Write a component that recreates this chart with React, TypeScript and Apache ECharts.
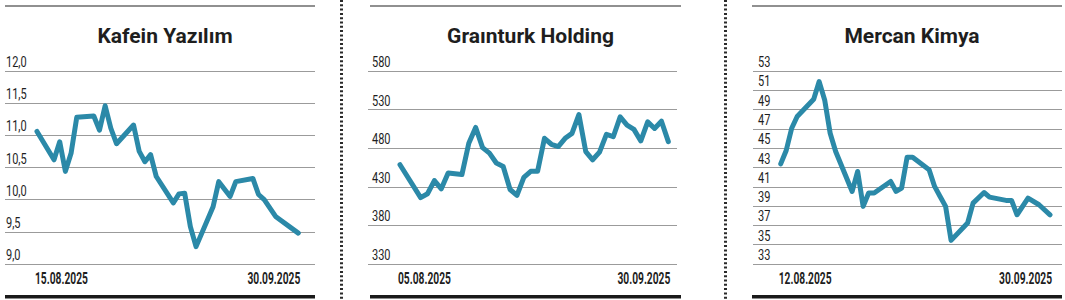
import React, { useEffect, useRef } from "react";
import * as echarts from "echarts";

// ---------- data ----------
const titles = ["Kafein Yazılım", "Graınturk Holding", "Mercan Kimya"];

// Kafein Yazılım: calendar-day offsets from 15.08.2025
const kafeinDays = [0, 3, 4, 5, 6, 7, 10, 11, 12, 13, 14, 17, 18, 19, 20, 21, 24, 25, 26, 27, 28, 31, 32, 34, 35, 38, 39, 40, 42, 46];
const kafeinValues = [11.06, 10.62, 10.9, 10.44, 10.72, 11.28, 11.3, 11.08, 11.46, 11.11, 10.87, 11.16, 10.75, 10.59, 10.7, 10.36, 9.95, 10.09, 10.1, 9.58, 9.27, 9.89, 10.28, 10.05, 10.28, 10.33, 10.08, 10.0, 9.74, 9.48];
const kafeinDates = ["15.08.2025", "30.09.2025"];
const kafeinTickLabels = ["9,0", "9,5", "10,0", "10,5", "11,0", "11,5", "12,0"];

// Graınturk Holding: trading-session index from 05.08.2025
const grainDays = [0, 3, 4, 5, 6, 7, 9, 10, 11, 12, 13, 14, 15, 16, 17, 18, 19, 20, 21, 22, 23, 24, 25, 26, 27, 28, 29, 30, 31, 32, 33, 34, 35, 36, 37, 38, 39];
const grainValues = [458.6, 415.9, 421, 438.1, 427.4, 448, 445.8, 486.4, 506.9, 480.8, 473.6, 460.8, 456.4, 426.5, 418.9, 442.3, 450, 450, 492.8, 485.1, 482.1, 492.8, 499.2, 523.6, 475.6, 465, 474.9, 497.9, 494.9, 520.5, 509.9, 504.4, 489.4, 514.1, 505.6, 515, 488.5];
const grainDates = ["05.08.2025", "30.09.2025"];
const grainTickLabels = ["330", "380", "430", "480", "530", "580"];

// Mercan Kimya: calendar-day offsets from 12.08.2025
const mercanDays = [0, 1, 2, 3, 6, 7, 8, 9, 10, 13, 14, 15, 16, 17, 20, 21, 22, 23, 24, 27, 28, 29, 30, 31, 34, 35, 37, 38, 41, 42, 43, 45, 47, 49];
const mercanValues = [43.38, 44.76, 47.07, 48.28, 50.07, 51.9, 50.0, 46.55, 44.66, 40.52, 42.59, 38.97, 40.35, 40.35, 41.55, 40.52, 40.86, 44.07, 44.07, 42.76, 41.04, 40.0, 38.97, 35.45, 37.24, 39.31, 40.41, 39.93, 39.59, 39.59, 38.1, 39.83, 39.14, 38.1];
const mercanDates = ["12.08.2025", "30.09.2025"];
const mercanTickLabels = ["33", "35", "37", "39", "41", "43", "45", "47", "49", "51", "53"];

// ---------- layout ----------
const panels = [
  { days: kafeinDays, values: kafeinValues, dates: kafeinDates, tickLabels: kafeinTickLabels,
    gridLeft: 5, gridWidth: 310, xMin: -5.63, xMax: 48.94, labelMargin: 1, ruleL: 5, ruleR: 315 },
  { days: grainDays, values: grainValues, dates: grainDates, tickLabels: grainTickLabels,
    gridLeft: 368, gridWidth: 309, xMin: -4.65, xMax: 40.26, labelMargin: 4, ruleL: 370, ruleR: 681 },
  { days: mercanDays, values: mercanValues, dates: mercanDates, tickLabels: mercanTickLabels,
    gridLeft: 753, gridWidth: 309, xMin: -5.04, xMax: 51.18, labelMargin: 5, ruleL: 752, ruleR: 1062 },
];

const LINE_COLOR = "#2b89a8";
const GRID_COLOR = "#9b9b9b";
const TEXT_COLOR = "#1e1e1e";
const num = (s: string) => parseFloat(s.replace(",", "."));

export default function App() {
  const ref = useRef<HTMLDivElement>(null);

  useEffect(() => {
    document.body.style.margin = "0";
    if (!ref.current) return;
    const chart = echarts.init(ref.current, null, { renderer: "svg" });

    const grid: any[] = [];
    const xAxis: any[] = [];
    const yAxis: any[] = [];
    const series: any[] = [];
    const title: any[] = [];
    const graphic: any[] = [];

    panels.forEach((p, i) => {
      const tickVals = p.tickLabels.map(num);
      grid.push({ left: p.gridLeft, width: p.gridWidth, top: 71, height: 193 });
      xAxis.push({
        type: "value",
        gridIndex: i,
        min: p.xMin,
        max: p.xMax,
        axisLine: { show: false },
        axisTick: { show: false },
        splitLine: { show: false },
        axisLabel: { show: false },
      });
      yAxis.push({
        type: "value",
        gridIndex: i,
        min: tickVals[0],
        max: tickVals[tickVals.length - 1],
        interval: tickVals[1] - tickVals[0],
        axisLine: { show: false },
        axisTick: { show: false },
        axisLabel: { show: false },
        splitLine: { show: true, lineStyle: { color: GRID_COLOR, width: 1 } },
      });
      series.push({
        type: "line",
        xAxisIndex: i,
        yAxisIndex: i,
        data: p.days.map((d, j) => [d, p.values[j]]),
        showSymbol: false,
        symbol: "none",
        lineStyle: { color: LINE_COLOR, width: 5, cap: "round", join: "round" },
      });
      title.push({
        text: titles[i],
        left: (p.ruleL + p.ruleR) / 2,
        top: 20,
        textAlign: "center",
        textStyle: { fontFamily: "Roboto, sans-serif", fontWeight: "bold", fontSize: 21, color: TEXT_COLOR },
      });
      graphic.push({
        type: "line",
        shape: { x1: p.ruleL, y1: 6, x2: p.ruleR, y2: 6 },
        style: { stroke: "#222", lineWidth: 1.2 },
      });
      graphic.push({
        type: "rect",
        shape: { x: p.ruleL, y: 295, width: p.ruleR - p.ruleL, height: 3.5 },
        style: { fill: "#1a1a1a" },
      });
    });

    [341.5, 725.5].forEach((x) => {
      graphic.push({
        type: "line",
        shape: { x1: x, y1: 0, x2: x, y2: 300 },
        style: { stroke: "#2a2a2a", lineWidth: 3, lineDash: [2, 2.3] },
      });
    });

    chart.setOption({
      animation: false,
      backgroundColor: "#ffffff",
      title,
      grid,
      xAxis,
      yAxis,
      series,
    });

    // tick and date labels, placed through the axes' own scales
    panels.forEach((p, i) => {
      const tickVals = p.tickLabels.map(num);
      const gridLeftPx = chart.convertToPixel({ xAxisIndex: i }, p.xMin) as number;
      tickVals.forEach((v, k) => {
        const py = chart.convertToPixel({ yAxisIndex: i }, v) as number;
        graphic.push({
          type: "text",
          x: gridLeftPx + p.labelMargin,
          y: py - 9,
          scaleX: 0.76,
          style: {
            text: p.tickLabels[k],
            fontFamily: "Roboto, sans-serif",
            fontSize: 14.5,
            fill: TEXT_COLOR,
            align: "left",
            verticalAlign: "middle",
          },
        });
      });
      const yMin = tickVals[0];
      const first = chart.convertToPixel({ gridIndex: i }, [p.days[0], yMin]) as number[];
      const last = chart.convertToPixel({ gridIndex: i }, [p.days[p.days.length - 1], yMin]) as number[];
      [
        { pt: first, text: p.dates[0], align: "left", dx: -2 },
        { pt: last, text: p.dates[1], align: "right", dx: 2 },
      ].forEach((d) => {
        graphic.push({
          type: "text",
          x: d.pt[0] + d.dx,
          y: d.pt[1] + 15,
          scaleX: 0.64,
          style: {
            text: d.text,
            fontFamily: "Roboto, sans-serif",
            fontWeight: "bold",
            fontSize: 16,
            fill: TEXT_COLOR,
            align: d.align,
            verticalAlign: "middle",
          },
        });
      });
    });

    chart.setOption({ graphic });

    return () => chart.dispose();
  }, []);

  return <div ref={ref} style={{ width: 1065, height: 300 }} />;
}
